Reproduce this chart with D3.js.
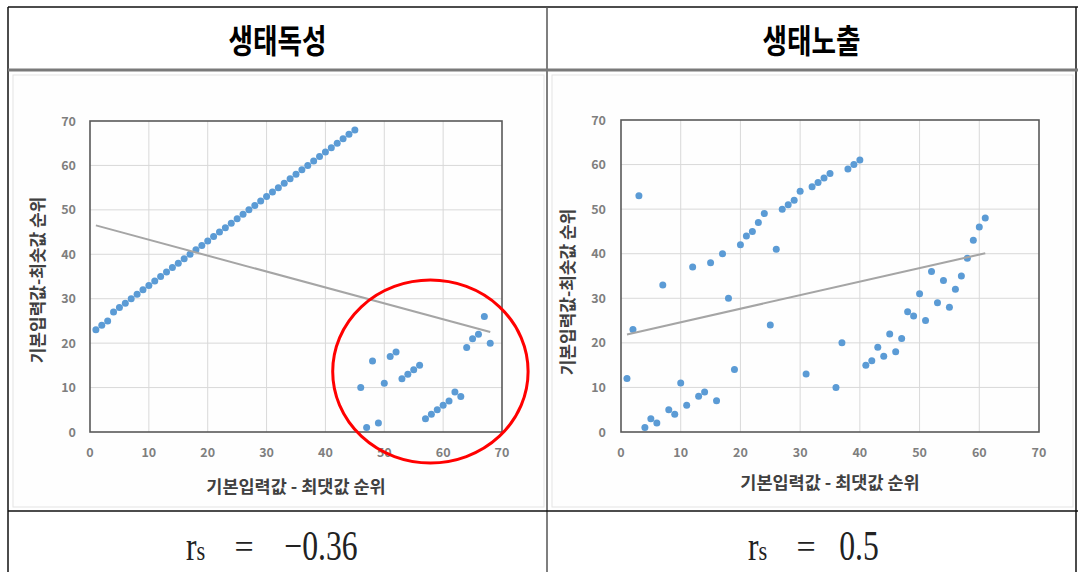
<!DOCTYPE html>
<html><head><meta charset="utf-8">
<script src="https://cdn.jsdelivr.net/npm/d3@7"></script>
<style>
html,body{margin:0;padding:0;background:#fff;}
svg{display:block;}
</style></head>
<body>
<svg id="c" width="1078" height="572"></svg>
<script>
// ---- data ----
const headers = ["생태독성", "생태노출"];
const rsLabels = ["−0.36", "0.5"];
const xTitle = "기본입력값 - 최댓값 순위";
const yTitle = "기본입력값-최솟값 순위";
const axisTicks = [0, 10, 20, 30, 40, 50, 60, 70];

const toxX = [1,2,3,4,5,6,7,8,9,10,11,12,13,14,15,16,17,18,19,20,21,22,23,24,25,26,27,28,29,30,31,32,33,34,35,36,37,38,39,40,41,42,43,44,45,
  46,47,48,49,50,51,52,53,54,55,56,57,58,59,60,61,62,63,64,65,66,67,68];
const toxY = [23,24,25,27,28,29,30,31,32,33,34,35,36,37,38,39,40,41,42,43,44,45,46,47,48,49,50,51,52,53,54,55,56,57,58,59,60,61,62,63,64,65,66,67,68,
  10,1,16,2,11,17,18,12,13,14,15,3,4,5,6,7,9,8,19,21,22,26,20];

const expX = [1,2,3,4,5,6,7,8,9,10,11,12,13,14,15,16,17,18,19,20,21,22,23,24,25,26,27,28,29,30,
  31,32,33,34,35,36,37,38,39,40,41,42,43,44,45,46,47,48,49,50,51,52,53,54,55,56,57,58,59,60,61];
const expY = [12,23,53,1,3,2,33,5,4,11,6,37,8,9,38,7,40,30,14,42,44,45,47,49,24,41,50,51,52,54,
  13,55,56,57,58,10,20,59,60,61,15,16,19,17,22,18,21,27,26,31,25,36,29,34,28,32,35,39,43,46,48];

// ---- layout ----
const svg = d3.select("#c");
const KFONT = "'Noto Sans CJK KR','Noto Sans',sans-serif";

// chart image backgrounds
[[13,75,531,432],[552,75,521,432]].forEach(r=>{
  svg.append("rect").attr("x",r[0]).attr("y",r[1]).attr("width",r[2]).attr("height",r[3])
    .attr("fill","#fefefe").attr("stroke","#e4e4e4").attr("stroke-width",1);
});

const panels = [
  {xs:toxX, ys:toxY, x0:90, x1:502, y0:432, y1:121, ylabRight:76, yTitleX:38, yTitleY:280, xTitleY:487,
   circle:{cx:430.4, cy:371.5, rx:97.7, ry:91.5}},
  {xs:expX, ys:expY, x0:621, x1:1039, y0:432, y1:120, ylabRight:606, yTitleX:568, yTitleY:292, xTitleY:483}
];

panels.forEach((p,i)=>{
  const x = d3.scaleLinear().domain([0,70]).range([p.x0,p.x1]);
  const y = d3.scaleLinear().domain([0,70]).range([p.y0,p.y1]);
  const g = svg.append("g");
  // gridlines
  g.append("g").selectAll("line.v").data(axisTicks.slice(1,-1)).join("line")
    .attr("x1",d=>x(d)).attr("x2",d=>x(d)).attr("y1",p.y1).attr("y2",p.y0)
    .attr("stroke","#d9d9d9").attr("stroke-width",1);
  g.append("g").selectAll("line.h").data(axisTicks.slice(1,-1)).join("line")
    .attr("y1",d=>y(d)).attr("y2",d=>y(d)).attr("x1",p.x0).attr("x2",p.x1)
    .attr("stroke","#d9d9d9").attr("stroke-width",1);
  // tick labels
  g.append("g").selectAll("text").data(axisTicks).join("text")
    .attr("x",d=>x(d)).attr("y",457).attr("text-anchor","middle")
    .attr("font-family",KFONT).attr("font-size",12.5).attr("font-weight","bold")
    .attr("fill","#7f7f7f").text(d=>d);
  g.append("g").selectAll("text").data(axisTicks).join("text")
    .attr("x",p.ylabRight).attr("y",d=>y(d)+4.5).attr("text-anchor","end")
    .attr("font-family",KFONT).attr("font-size",12.5).attr("font-weight","bold")
    .attr("fill","#7f7f7f").text(d=>d);
  // border
  g.append("rect").attr("x",p.x0).attr("y",p.y1).attr("width",p.x1-p.x0).attr("height",p.y0-p.y1)
    .attr("fill","none").attr("stroke","#595959").attr("stroke-width",1.6);
  // points
  g.append("g").selectAll("circle").data(p.xs.map((v,k)=>[v,p.ys[k]])).join("circle")
    .attr("cx",d=>x(d[0])).attr("cy",d=>y(d[1])).attr("r",3.5).attr("fill","#5b9bd5");
  // linear trendline (least squares)
  const n = p.xs.length, mx = d3.mean(p.xs), my = d3.mean(p.ys);
  let sxy=0, sxx=0;
  for(let k=0;k<n;k++){ sxy += (p.xs[k]-mx)*(p.ys[k]-my); sxx += (p.xs[k]-mx)**2; }
  const b = sxy/sxx, a = my - b*mx;
  const xa = d3.min(p.xs), xb = d3.max(p.xs);
  g.append("line").attr("x1",x(xa)).attr("y1",y(a+b*xa)).attr("x2",x(xb)).attr("y2",y(a+b*xb))
    .attr("stroke","#a5a5a5").attr("stroke-width",2);
  // titles
  g.append("text").attr("x",(p.x0+p.x1)/2).attr("y",p.xTitleY+6).attr("text-anchor","middle")
    .attr("font-family",KFONT).attr("font-size",17.5).attr("font-weight","bold").attr("fill","#404040")
    .text(xTitle);
  g.append("text").attr("transform",`translate(${p.yTitleX+6},${p.yTitleY}) rotate(-90)`)
    .attr("text-anchor","middle")
    .attr("font-family",KFONT).attr("font-size",17).attr("font-weight","bold").attr("fill","#404040")
    .text(yTitle);
  if(p.circle){
    g.append("ellipse").attr("cx",p.circle.cx).attr("cy",p.circle.cy)
      .attr("rx",p.circle.rx).attr("ry",p.circle.ry)
      .attr("fill","none").attr("stroke","#ff0000").attr("stroke-width",3);
  }
});

// ---- table lines ----
const line = (x1,y1,x2,y2,c,w)=>svg.append("line").attr("x1",x1).attr("y1",y1).attr("x2",x2).attr("y2",y2)
  .attr("stroke",c).attr("stroke-width",w);
line(8,7,1078,7,"#111",1.5);
line(8,7,8,572,"#111",1.5);
line(547,7,547,572,"#555",1.5);
line(1076,7,1076,572,"#111",1.5);
line(8,70,1078,70,"#7a7a7a",3);
line(8,511,1078,511,"#111",1.5);

// headers (slightly condensed / tall like the original)
[277.5, 811.5].forEach((cx,i)=>{
  svg.append("text").attr("transform",`translate(${cx},53) scale(0.92,1.14)`).attr("text-anchor","middle")
    .attr("font-family",KFONT).attr("font-size",29).attr("font-weight","bold").attr("fill","#000")
    .text(headers[i]);
});

// rs values
const SFONT = "'Liberation Serif','DejaVu Serif',serif";
const rsPos = [{r:186, eq:244, v:321}, {r:748, eq:806, v:859}];
rsPos.forEach((p,i)=>{
  const t = svg.append("text").attr("transform",`translate(${p.r},560) scale(0.9,1.12)`)
    .attr("font-family",SFONT).attr("font-size",35).attr("fill","#222");
  t.append("tspan").text("r");
  t.append("tspan").attr("font-size",25).text("s");
  svg.append("text").attr("transform",`translate(${p.eq},558)`).attr("text-anchor","middle")
    .attr("font-family",SFONT).attr("font-size",34).attr("fill","#222").text("=");
  svg.append("text").attr("transform",`translate(${p.v},560) scale(0.88,1.15)`).attr("text-anchor","middle")
    .attr("font-family",SFONT).attr("font-size",36).attr("fill","#222").text(rsLabels[i]);
});
</script>
</body></html>
